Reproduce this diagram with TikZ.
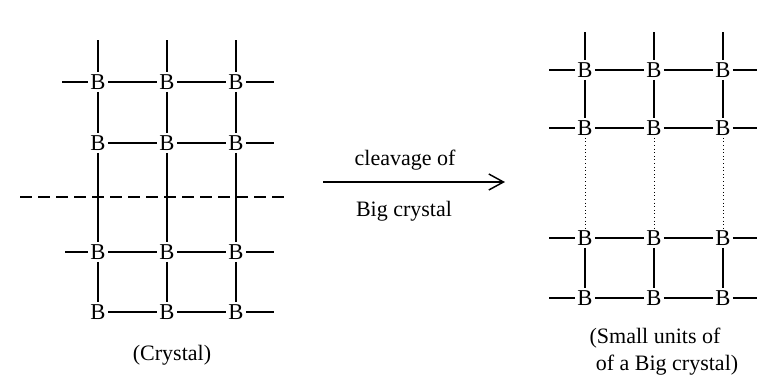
\documentclass[tikz,border=0pt]{standalone}
\usepackage{fontspec}
\setmainfont{Liberation Serif}
\usetikzlibrary{arrows.meta}
\tikzset{
  atom/.style={inner sep=1.6pt, font=\fontsize{17}{20}\selectfont},
  bond/.style={line width=0.9pt},
  weakbond/.style={line width=0.7pt, dotted},
  cutline/.style={line width=0.8pt, dash pattern=on 9pt off 4.5pt},
  caption/.style={inner sep=0pt, font=\fontsize{16.5}{20}\selectfont}
}
\begin{document}
\begin{tikzpicture}[x=0.75pt,y=-0.75pt]
\useasboundingbox (0,0) rectangle (764,376);
% big crystal
\foreach \r/\y in {1/82,2/143,3/252,4/312}{
  \foreach \c/\x in {1/98,2/167,3/236}
    \node[atom] (c\r\c) at (\x,\y) {B};
  \coordinate (cr\r) at (274,\y);
}
\foreach \c/\x in {1/98,2/167,3/236}
  \coordinate (ct\c) at (\x,40);
\coordinate (cl1) at (62,82);
\coordinate (cl3) at (65,252);
\foreach \r in {1,...,4}
  \draw[bond] (c\r1) -- (c\r2) -- (c\r3) -- (cr\r);
\draw[bond] (cl1) -- (c11);
\draw[bond] (cl3) -- (c31);
\foreach \c in {1,2,3}
  \draw[bond] (ct\c) -- (c1\c) -- (c2\c) -- (c3\c) -- (c4\c);
% plane of cleavage
\coordinate (cutL) at (20,197);
\coordinate (cutR) at (287,197);
\draw[cutline] (cutL) -- (cutR);
\node[caption] (crystal) at (172,355) {(Crystal)};
% arrow
\coordinate (arrS) at (323,182);
\coordinate (arrE) at (505,182);
\draw[line width=1.1pt, -{Straight Barb[length=11pt,width=12pt]}] (arrS) -- (arrE);
\node[caption] (cleave) at (405,160) {cleavage of};
\node[caption] (bigc) at (404,211) {Big crystal};
% small units
\foreach \r/\y in {1/70,2/128,3/238,4/298}{
  \foreach \c/\x in {1/585,2/654,3/723}
    \node[atom] (s\r\c) at (\x,\y) {B};
  \coordinate (sl\r) at (549,\y);
  \coordinate (sr\r) at (757,\y);
  \draw[bond] (sl\r) -- (s\r1) -- (s\r2) -- (s\r3) -- (sr\r);
}
\foreach \c/\x in {1/585,2/654,3/723}{
  \coordinate (st\c) at (\x,32);
  \draw[bond] (st\c) -- (s1\c) -- (s2\c);
  \draw[weakbond] (s2\c) -- (s3\c);
  \draw[bond] (s3\c) -- (s4\c);
}
\node[caption] (units1) at (655,338) {(Small units of};
\node[caption] (units2) at (667,365) {of a Big crystal)};
\end{tikzpicture}
\end{document}
